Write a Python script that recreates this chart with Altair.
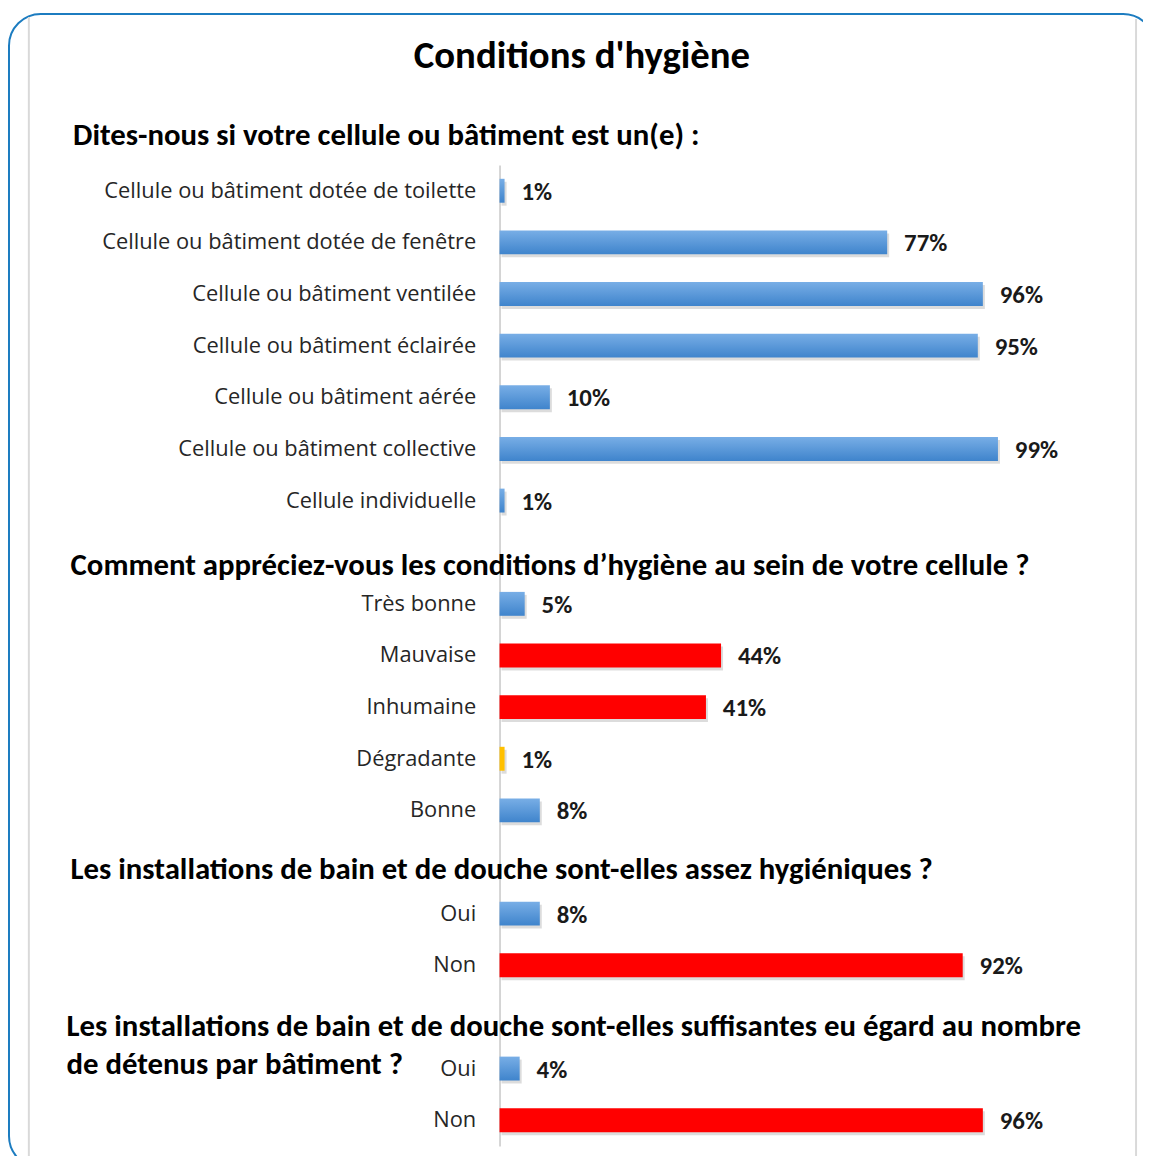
import altair as alt
import pandas as pd

# ---- data ----
s1_labels = ["Cellule ou bâtiment dotée de toilette", "Cellule ou bâtiment dotée de fenêtre",
             "Cellule ou bâtiment ventilée", "Cellule ou bâtiment éclairée",
             "Cellule ou bâtiment aérée", "Cellule ou bâtiment collective", "Cellule individuelle"]
s1_values = [1, 77, 96, 95, 10, 99, 1]
s1_colors = ["blue"] * 7

s2_labels = ["Très bonne", "Mauvaise", "Inhumaine", "Dégradante", "Bonne"]
s2_values = [5, 44, 41, 1, 8]
s2_colors = ["blue", "red", "red", "orange", "blue"]

s3_labels = ["Oui", "Non"]
s3_values = [8, 92]
s3_colors = ["blue", "red"]

s4_labels = ["Oui", "Non"]
s4_values = [4, 96]
s4_colors = ["blue", "red"]

title_text = "Conditions d'hygiène"
header1 = "Dites-nous si votre cellule ou bâtiment est un(e) :"
header2 = "Comment appréciez-vous les conditions d’hygiène au sein de votre cellule ?"
header3 = "Les installations de bain et de douche sont-elles assez hygiéniques ?"
header4 = ["Les installations de bain et de douche sont-elles suffisantes eu égard au nombre",
           "de détenus par bâtiment ?"]

# ---- build table ----
rows = []
domain = []
def add_section(sid, labels, values, colors, header_key=None):
    if header_key:
        domain.append(header_key)
    for i, (l, v, c) in enumerate(zip(labels, values, colors)):
        k = f"{sid}|{i}|{l}"
        domain.append(k)
        rows.append({"key": k, "value": v, "color": c, "label": f"{v}%"})

add_section("s1", s1_labels, s1_values, s1_colors)
add_section("s2", s2_labels, s2_values, s2_colors, "h2||")
add_section("s3", s3_labels, s3_values, s3_colors, "h3||")
add_section("s4", s4_labels, s4_values, s4_colors, "h4||")
df = pd.DataFrame(rows)

LABEL_FONT = "Open Sans"
HEAD_FONT = "Carlito, Liberation Sans Narrow, Open Sans"

W, H = 507, 988
yscale = alt.Scale(domain=domain, paddingInner=0.537, paddingOuter=0.2685)
xscale = alt.Scale(domain=[0, 100])

base = alt.Chart(df).encode(
    y=alt.Y("key:N", scale=yscale, sort=domain,
            axis=alt.Axis(title=header1, titleAngle=0, titleAlign="left", titleBaseline="middle",
                          titleX=-430, titleY=-30, titleFont=HEAD_FONT, titleFontSize=31,
                          titleFontWeight="bold", titleColor="#000000",
                          labelExpr="split(datum.value, '|')[2]", labelFont=LABEL_FONT,
                          labelFontSize=22, labelColor="#262626", labelPadding=24,
                          ticks=False, domainColor="#c8c8c8", domainWidth=1.5,
                          labelLimit=500)),
    x=alt.X("value:Q", scale=xscale, axis=None),
)

shadow = base.mark_bar(color="#9a9a9a", opacity=0.35, xOffset=2, yOffset=3)
blue = base.mark_bar(color=alt.Gradient(gradient="linear",
                                        stops=[alt.GradientStop(color="#78aee6", offset=0),
                                               alt.GradientStop(color="#3f84cc", offset=1)],
                                        x1=0, x2=0, y1=0, y2=1)).transform_filter(alt.datum.color == "blue")
red = base.mark_bar(color="#ff0000").transform_filter(alt.datum.color == "red")
orange = base.mark_bar(color="#ffc000").transform_filter(alt.datum.color == "orange")
pct = base.mark_text(align="left", baseline="middle", dx=17, dy=1, font=HEAD_FONT,
                     fontSize=25, fontWeight="bold", color="#1a1a1a").encode(text="label:N")

# header lines (placed on their band slots)
head_specs = [("h2||", header2, 14, -432), ("h3||", header3, 8, -432), ("h4||", header4[0], 10, -436),
              ("s4|0|Oui", header4[1], -4, -436)]
heads = []
for key, txt, dy, xpix in head_specs:
    hdf = pd.DataFrame({"key": [key], "txt": [txt]})
    heads.append(alt.Chart(hdf).mark_text(align="left", baseline="middle", dy=dy, font=HEAD_FONT,
                                          fontSize=31, fontWeight="bold", color="#000000")
                 .encode(y=alt.Y("key:N", scale=yscale, sort=domain), x=alt.value(xpix),
                         text="txt:N"))

frame_df = pd.DataFrame({"a": [0]})
title_mark = alt.Chart(pd.DataFrame({"t": [title_text]})).mark_text(
    align="center", baseline="middle", font=HEAD_FONT, fontSize=39, fontWeight="bold",
    color="#000000").encode(x=alt.value(83), y=alt.value(-110), text="t:N")
border = alt.Chart(frame_df).mark_rect(fillOpacity=0, stroke="#1c7cc0", strokeWidth=2,
                                       cornerRadius=32).encode(
    x=alt.value(-494), x2=alt.value(660), y=alt.value(-152), y2=alt.value(1010))
gray_l = alt.Chart(frame_df).mark_rule(color="#d9d9d9", strokeWidth=2).encode(
    x=alt.value(-474), y=alt.value(-149), y2=alt.value(1010))
gray_r = alt.Chart(frame_df).mark_rule(color="#d9d9d9", strokeWidth=2).encode(
    x=alt.value(641), y=alt.value(-147), y2=alt.value(1010))

chart = alt.layer(border, gray_l, gray_r, shadow, blue, red, orange, pct, title_mark, *heads).properties(
    width=W, height=H,
    background="#ffffff",
    autosize=alt.AutoSizeParams(type="none"),
    padding={"left": 495, "top": 154, "right": 141, "bottom": 6},
).configure_view(strokeWidth=0, stroke="transparent")

chart.save("out.html", embed_options={"renderer": "svg", "actions": False})
